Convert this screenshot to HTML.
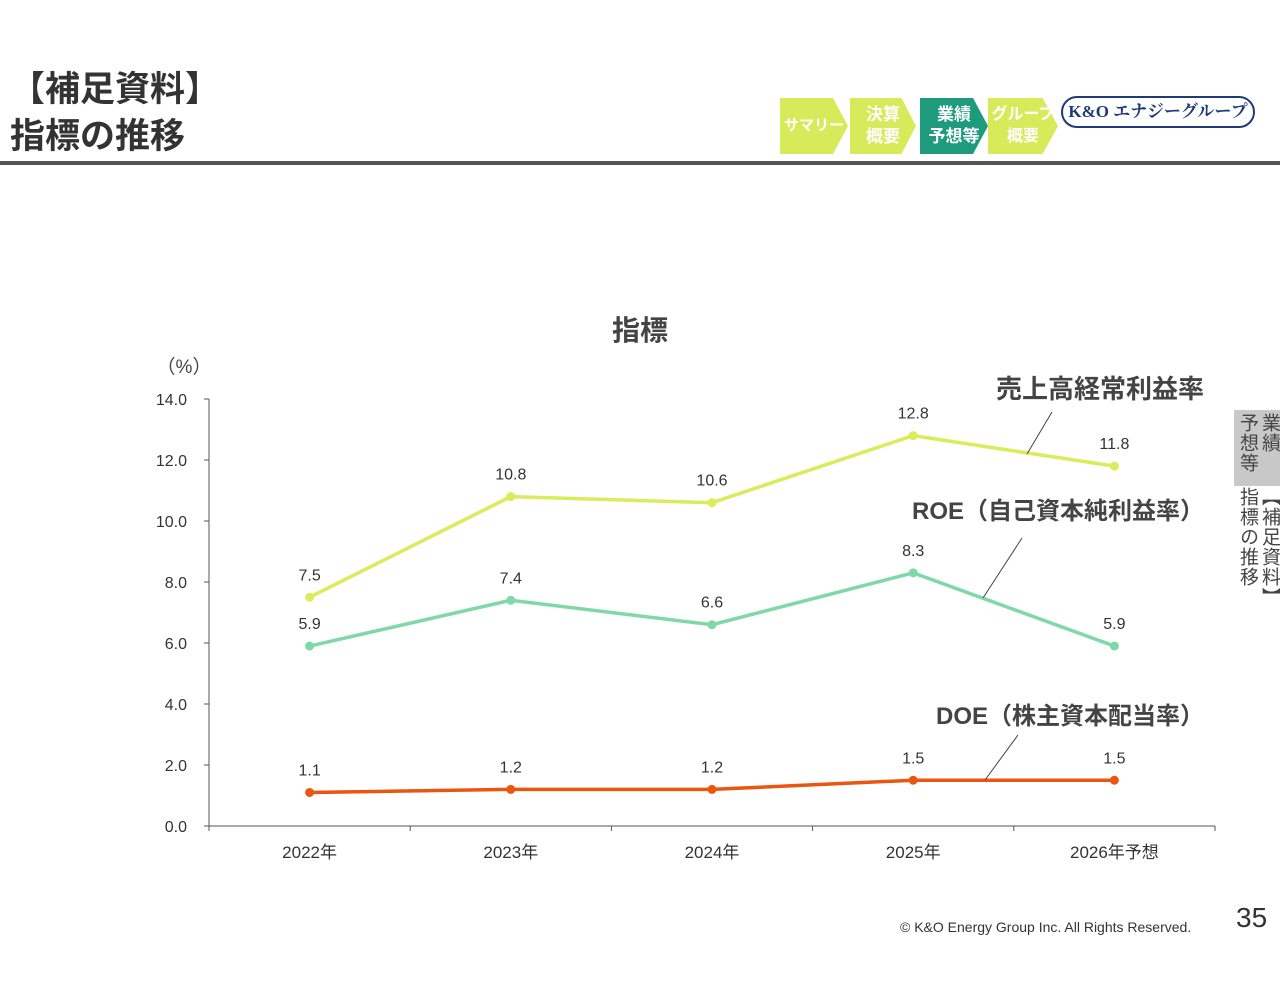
<!DOCTYPE html>
<html><head><meta charset="utf-8">
<style>
body{margin:0;width:1280px;height:989px;background:#fff;position:relative;overflow:hidden;font-family:"Liberation Sans","Noto Sans CJK JP",sans-serif;}
.abs{position:absolute;}
.title{left:10px;top:66px;font-size:35px;font-weight:bold;color:#333;line-height:47px;}
.nav{top:98px;height:56px;display:flex;align-items:center;justify-content:center;color:#fff;font-weight:bold;font-size:17px;line-height:22px;text-align:center;clip-path:polygon(0 0,78% 0,100% 50%,78% 100%,0 100%);}
.vt{writing-mode:vertical-rl;font-size:19px;color:#444;line-height:22px;letter-spacing:1px;}
</style></head><body>
<div class="abs title">【補足資料】<br>指標の推移</div>
<div class="abs nav" style="left:780px;width:68px;background:#d7ea5a;font-size:15px">サマリー</div>
<div class="abs nav" style="left:850px;width:66px;background:#d7ea5a">決算<br>概要</div>
<div class="abs nav" style="left:920px;width:68px;background:#1e9a7c">業績<br>予想等</div>
<div class="abs nav" style="left:988px;width:70px;background:#d7ea5a;font-size:16px">グループ<br>概要</div>
<div class="abs" style="left:1061px;top:96px;width:190px;height:28px;border:2px solid #1f3a7a;border-radius:16px;color:#1f3a7a;font-weight:bold;font-size:17px;text-align:center;line-height:28px;font-family:'Liberation Serif','Noto Serif CJK SC',serif;">K&amp;O エナジーグループ</div>
<div class="abs" style="left:0;top:161px;width:1280px;height:4px;background:#555"></div>
<div class="abs" style="left:1234px;top:410px;width:46px;height:76px;background:#c8c8c8"></div>
<div class="abs vt" style="left:1236px;top:413px;">業績<br>予想等<br></div>
<div class="abs vt" style="left:1236px;top:487px;">【補足資料】<br>指標の推移</div>
<div class="abs" style="left:900px;top:919px;font-size:14px;color:#333">© K&amp;O Energy Group Inc. All Rights Reserved.</div>
<div class="abs" style="left:1236px;top:902px;font-size:28px;color:#333">35</div>
<svg class="abs" style="left:0;top:0" width="1280" height="989" id="chart"></svg>
<script>
const categories=["2022年","2023年","2024年","2025年","2026年予想"];
const salesMargin=[7.5,10.8,10.6,12.8,11.8];
const roe=[5.9,7.4,6.6,8.3,5.9];
const doe=[1.1,1.2,1.2,1.5,1.5];
const yTicks=[0,2,4,6,8,10,12,14];
const NS="http://www.w3.org/2000/svg";
const svg=document.getElementById('chart');
const x0=209,x1=1215,y0=826,yTop=399;
const xs=i=>x0+(x1-x0)/categories.length*(i+0.5);
const ys=v=>y0-(v/14)*(y0-yTop);
function el(t,a,txt){const e=document.createElementNS(NS,t);for(const k in a)e.setAttribute(k,a[k]);if(txt!==undefined)e.textContent=txt;svg.appendChild(e);return e;}
let e;
e=el('text',{x:640,y:340,'text-anchor':'middle','font-size':28,'font-weight':'bold',fill:'#444'},'指標');

e=el('text',{x:184,y:373,'text-anchor':'middle','font-size':19,fill:'#444'},'（%）');

e=el('line',{x1:x0,y1:yTop,x2:x0,y2:y0,stroke:'#555','stroke-width':1});

e=el('line',{x1:x0,y1:y0,x2:x1,y2:y0,stroke:'#555','stroke-width':1});

yTicks.forEach(v=>{
 e=el('line',{x1:x0-5,y1:ys(v),x2:x0,y2:ys(v),stroke:'#555'});
 
 e=el('text',{x:187,y:ys(v)+6,'text-anchor':'end','font-size':16,fill:'#333'},v.toFixed(1));
 
});
for(let i=0;i<=categories.length;i++){
 const xx=x0+(x1-x0)/categories.length*i;
 e=el('line',{x1:xx,y1:y0,x2:xx,y2:y0+5,stroke:'#555'});
 
}
categories.forEach((c,i)=>{
 e=el('text',{x:xs(i),y:858,'text-anchor':'middle','font-size':17,fill:'#333'},c);
 
});
function series(vals,color,name){
 e=el('polyline',{points:vals.map((v,i)=>xs(i)+','+ys(v)).join(' '),fill:'none',stroke:color,'stroke-width':3.5});
 
 vals.forEach((v,i)=>{
  e=el('circle',{cx:xs(i),cy:ys(v),r:4.5,fill:color});
  
  e=el('text',{x:xs(i),y:ys(v)-17,'text-anchor':'middle','font-size':16,fill:'#333'},v.toFixed(1));
  
 });
}
series(salesMargin,'#d9ec5a','sales-margin');
series(roe,'#80d8a8','roe');
series(doe,'#ea5510','doe');
function callout(tx,ty,txt,fs,lx1,ly1,lx2,ly2,name){
 e=el('text',{x:tx,y:ty,'text-anchor':'end','font-size':fs,'font-weight':'bold',fill:'#444'},txt);
 
 e=el('line',{x1:lx1,y1:ly1,x2:lx2,y2:ly2,stroke:'#444','stroke-width':1});
 
}
callout(1204,398,'売上高経常利益率',26,1052,412,1027,454,'sales-margin');
callout(1204,519,'ROE（自己資本純利益率）',24,1022,538,983,598,'roe');
callout(1204,724,'DOE（株主資本配当率）',24,1018,735,985,780,'doe');
</script>
</body></html>
